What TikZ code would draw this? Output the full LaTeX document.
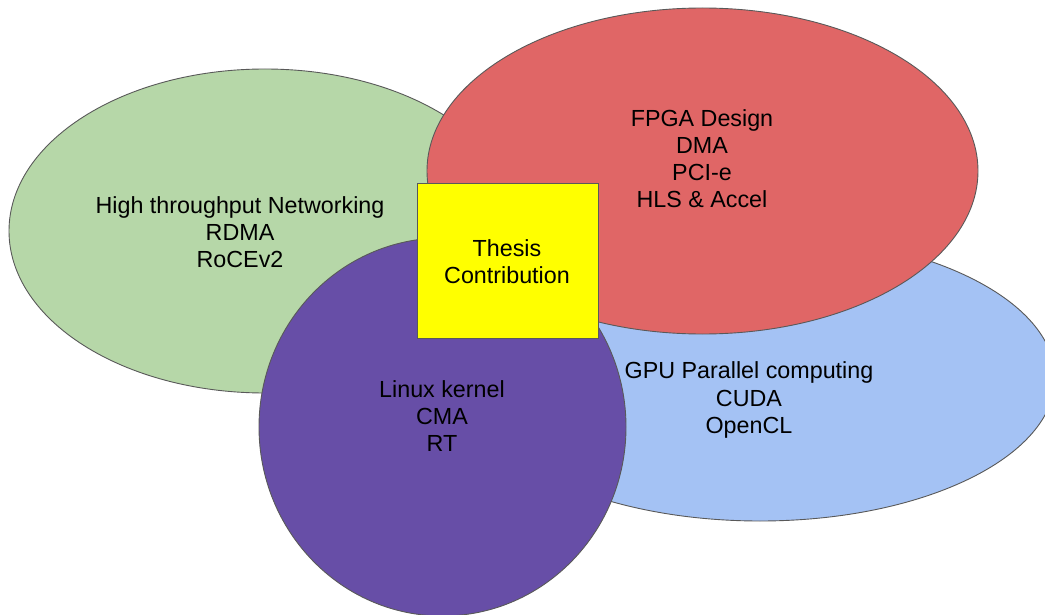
\documentclass[tikz,border=0pt]{standalone}
\usepackage{fontspec}
\setmainfont{Liberation Sans}
\usetikzlibrary{shapes.geometric}
\definecolor{cgreen}{HTML}{B6D7A8}
\definecolor{cred}{HTML}{E06666}
\definecolor{cblue}{HTML}{A4C2F4}
\definecolor{cpurple}{HTML}{674EA7}
\definecolor{cyellow}{HTML}{FFFF00}
\definecolor{cedge}{HTML}{595959}
\begin{document}
\begin{tikzpicture}[x=1pt,y=-1pt,
  blob/.style={ellipse, draw=cedge, line width=0.9pt, inner sep=0pt, outer sep=0pt},
  lbl/.style={align=center, text=black, inner sep=0pt, font=\fontsize{23.3}{27.2}\selectfont}]
\useasboundingbox (0,0) rectangle (1045,615);
\node[blob, fill=cgreen, minimum width=512pt, minimum height=324pt] (green) at (265,231) {};
\node[blob, fill=cblue, minimum width=590pt, minimum height=286pt] (blue) at (760,378) {};
\node[blob, fill=cred, minimum width=551pt, minimum height=326pt] (red) at (702.5,171) {};
\node[blob, fill=cpurple, minimum width=367pt, minimum height=378pt] (purple) at (442.5,427) {};
\node[draw=cedge, line width=0.9pt, fill=cyellow, minimum width=181pt, minimum height=155pt, inner sep=0pt, outer sep=0pt] (thesis) at (507.5,260.5) {};
\node[lbl] (tgreen) at (240,232) {High throughput Networking\\RDMA\\RoCEv2};
\node[lbl] (tred) at (702,158.5) {FPGA Design\\DMA\\PCI-e\\HLS \& Accel};
\node[lbl] (tblue) at (749,400) {GPU Parallel computing\\CUDA\\OpenCL};
\node[lbl] (tpurple) at (442,416) {Linux kernel\\CMA\\RT};
\node[lbl] (tthesis) at (507,262) {Thesis\\Contribution};
\end{tikzpicture}
\end{document}
